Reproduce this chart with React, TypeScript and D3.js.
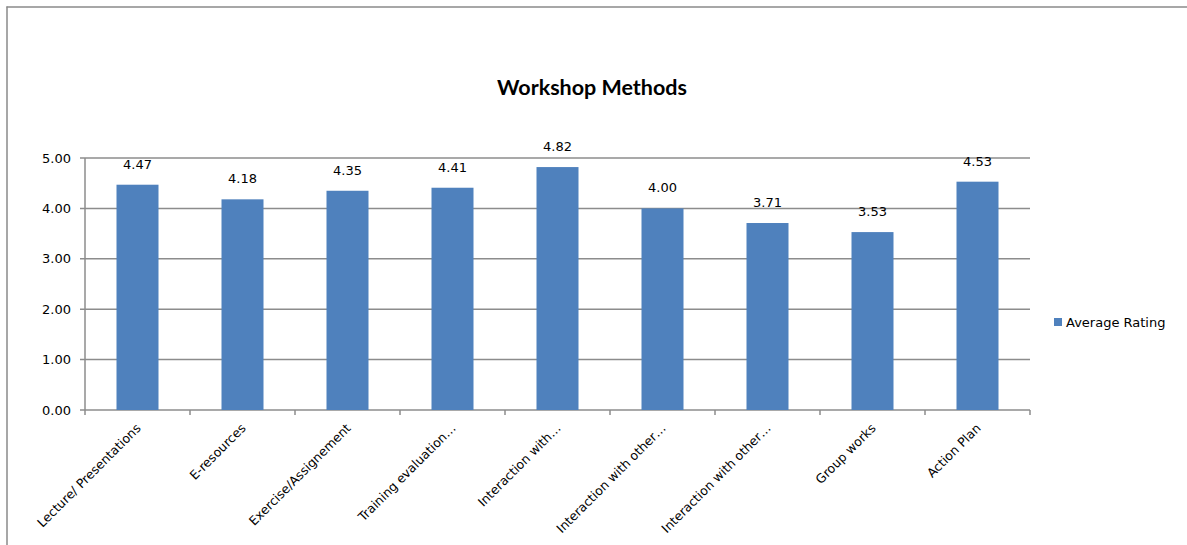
import React from "react";
import * as d3 from "d3";

const categories = [
  "Lecture/ Presentations",
  "E-resources",
  "Exercise/Assignement",
  "Training evaluation…",
  "Interaction with…",
  "Interaction with other…",
  "Interaction with other…",
  "Group works",
  "Action Plan",
];
const averageRating = [4.47, 4.18, 4.35, 4.41, 4.82, 4.0, 3.71, 3.53, 4.53];
const yTicks = [0, 1, 2, 3, 4, 5];
const seriesName = "Average Rating";
const title = "Workshop Methods";

const W = 1187;
const H = 545;
const margin = { left: 85, right: 1030, top: 158, bottom: 410 };
const BAR = "#4F81BD";
const GRID = "#8C8C8C";
const FONT = "'DejaVu Sans', 'Noto Sans', sans-serif";

export default function App() {
  const x = d3
    .scaleBand<number>()
    .domain(d3.range(categories.length))
    .range([margin.left, margin.right])
    .paddingInner(0.6)
    .paddingOuter(0.3);
  const band = d3
    .scaleBand<number>()
    .domain(d3.range(categories.length))
    .range([margin.left, margin.right]);
  const y = d3.scaleLinear().domain([0, 5]).range([margin.bottom, margin.top]);

  return (
    <svg
      width={W}
      height={H}
      style={{ position: "absolute", left: 0, top: 0, background: "#fff" }}
    >
      {/* outer frame */}
      <line x1={6.5} y1={7} x2={W} y2={7} stroke="#8A8A8A" strokeWidth={1.5} />
      <line x1={7} y1={6.5} x2={7} y2={H} stroke="#8A8A8A" strokeWidth={1.5} />

      <text
        x={592}
        y={95}
        textAnchor="middle"
        fontFamily="Lato, sans-serif"
        fontWeight="bold"
        fontSize={21.5}
        fill="#000"
      >
        {title}
      </text>

      {/* gridlines and y labels */}
      {yTicks.map((t) => (
        <g key={t}>
          <line
            x1={margin.left - 5}
            x2={margin.right}
            y1={y(t)}
            y2={y(t)}
            stroke={GRID}
            strokeWidth={1.5}
          />
          <text
            x={margin.left - 14}
            y={y(t)}
            dy="0.35em"
            textAnchor="end"
            fontFamily={FONT}
            fontSize={13}
            fill="#000"
          >
            {t.toFixed(2)}
          </text>
        </g>
      ))}
      <line
        x1={margin.left}
        x2={margin.left}
        y1={y(5)}
        y2={y(0)}
        stroke={GRID}
        strokeWidth={1.5}
      />

      {/* bars */}
      {averageRating.map((v, i) => (
        <g key={i}>
          <rect
            x={x(i)}
            y={y(v)}
            width={x.bandwidth()}
            height={y(0) - y(v)}
            fill={BAR}
          />
          <text
            x={(x(i) as number) + x.bandwidth() / 2}
            y={y(v) - 16}
            textAnchor="middle"
            fontFamily={FONT}
            fontSize={13}
            fill="#000"
          >
            {v.toFixed(2)}
          </text>
        </g>
      ))}

      {/* x axis ticks */}
      {d3.range(categories.length + 1).map((i) => {
        const xx = margin.left + i * band.bandwidth();
        return (
          <line
            key={i}
            x1={xx}
            x2={xx}
            y1={y(0)}
            y2={y(0) + 5}
            stroke={GRID}
            strokeWidth={1.5}
          />
        );
      })}

      {/* category labels */}
      {categories.map((c, i) => {
        const cx = (band(i) as number) + band.bandwidth() / 2;
        return (
          <text
            key={i}
            transform={`translate(${cx + 4},${y(0) + 19}) rotate(-45)`}
            textAnchor="end"
            fontFamily={FONT}
            fontSize={12.5}
            fill="#000"
          >
            {c}
          </text>
        );
      })}

      {/* legend */}
      <rect x={1054} y={318} width={8} height={8} fill={BAR} />
      <text
        x={1066}
        y={322}
        dy="0.35em"
        fontFamily={FONT}
        fontSize={13}
        fill="#000"
      >
        {seriesName}
      </text>
    </svg>
  );
}
